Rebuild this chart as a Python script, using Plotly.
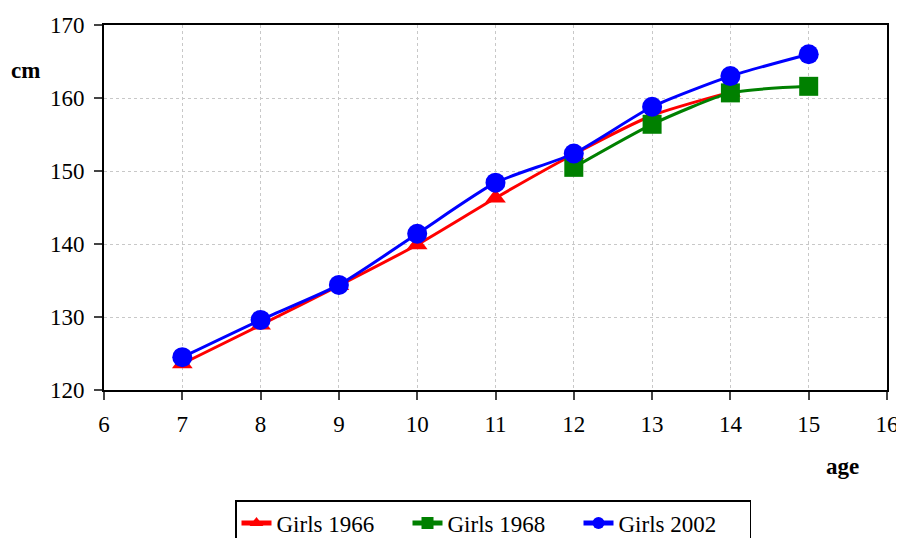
import plotly.graph_objects as go

ages_1966 = [7, 8, 9, 10, 11, 12, 13, 14]
girls_1966 = [123.6, 128.9, 134.3, 139.9, 146.3, 152.3, 157.6, 160.8]

ages_1968 = [12, 13, 14, 15]
girls_1968 = [150.5, 156.4, 160.7, 161.6]

ages_2002 = [7, 8, 9, 10, 11, 12, 13, 14, 15]
girls_2002 = [124.5, 129.6, 134.4, 141.4, 148.4, 152.4, 158.8, 163.0, 166.0]

x_ticks = [6, 7, 8, 9, 10, 11, 12, 13, 14, 15, 16]
y_ticks = [120, 130, 140, 150, 160, 170]

FONT = "Liberation Serif"
W, H = 904, 538
OFF = 8  # page body margin in the browser
# plot area in screen pixels
plot_l, plot_r, plot_t, plot_b = 104, 887, 25, 390


def px_to_paper(px, py):
    return (px - plot_l) / (plot_r - plot_l), (plot_b - py) / (plot_b - plot_t)


fig = go.Figure()
fig.add_trace(go.Scatter(x=ages_1966, y=girls_1966, name="Girls 1966", mode="lines+markers",
                         line=dict(color="#ff0000", width=3, shape="spline", smoothing=0.6),
                         marker=dict(symbol="triangle-up", size=18, color="#ff0000")))
fig.add_trace(go.Scatter(x=ages_1968, y=girls_1968, name="Girls 1968", mode="lines+markers",
                         line=dict(color="#008000", width=3, shape="spline", smoothing=0.6),
                         marker=dict(symbol="square", size=19, color="#008000")))
fig.add_trace(go.Scatter(x=ages_2002, y=girls_2002, name="Girls 2002", mode="lines+markers",
                         line=dict(color="#0000ff", width=3, shape="spline", smoothing=0.6),
                         marker=dict(symbol="circle", size=20, color="#0000ff")))

a0 = px_to_paper(25, 70)
a1 = px_to_paper(842, 467)
lx, ly = px_to_paper(493, 500)

fig.update_layout(
    width=W, height=H,
    margin=dict(l=plot_l - OFF, r=W - (plot_r - OFF), t=plot_t - OFF, b=H - (plot_b - OFF),
                autoexpand=False),
    paper_bgcolor="white", plot_bgcolor="white",
    font=dict(family=FONT, size=23, color="black"),
    showlegend=True,
    legend=dict(orientation="h", x=lx, xanchor="center", y=ly, yanchor="top",
                bordercolor="black", borderwidth=1.5, font=dict(family=FONT, size=23),
                entrywidth=126, itemsizing="constant"),
    annotations=[
        dict(text="<b>cm</b>", x=a0[0], y=a0[1], xref="paper", yref="paper", showarrow=False,
             xanchor="center", yanchor="middle", font=dict(family=FONT, size=23)),
        dict(text="<b>age</b>", x=a1[0], y=a1[1], xref="paper", yref="paper", showarrow=False,
             xanchor="center", yanchor="middle", font=dict(family=FONT, size=23)),
    ],
)

fig.update_xaxes(range=[6, 16], tickvals=x_ticks, ticks="outside", ticklen=8, tickwidth=2,
                 showline=True, linecolor="black", linewidth=2, mirror=True,
                 showgrid=True, gridcolor="#c8c8c8", griddash="dot", gridwidth=1,
                 zeroline=False, automargin=False, ticklabelstandoff=4,
                 tickfont=dict(family=FONT, size=23))
fig.update_yaxes(range=[120, 170], tickvals=y_ticks, ticks="outside", ticklen=8, tickwidth=2,
                 showline=True, linecolor="black", linewidth=2, mirror=True,
                 showgrid=True, gridcolor="#c8c8c8", griddash="dot", gridwidth=1,
                 zeroline=False, automargin=False, ticklabelstandoff=5,
                 tickfont=dict(family=FONT, size=23))

fig.write_html("out.html")
